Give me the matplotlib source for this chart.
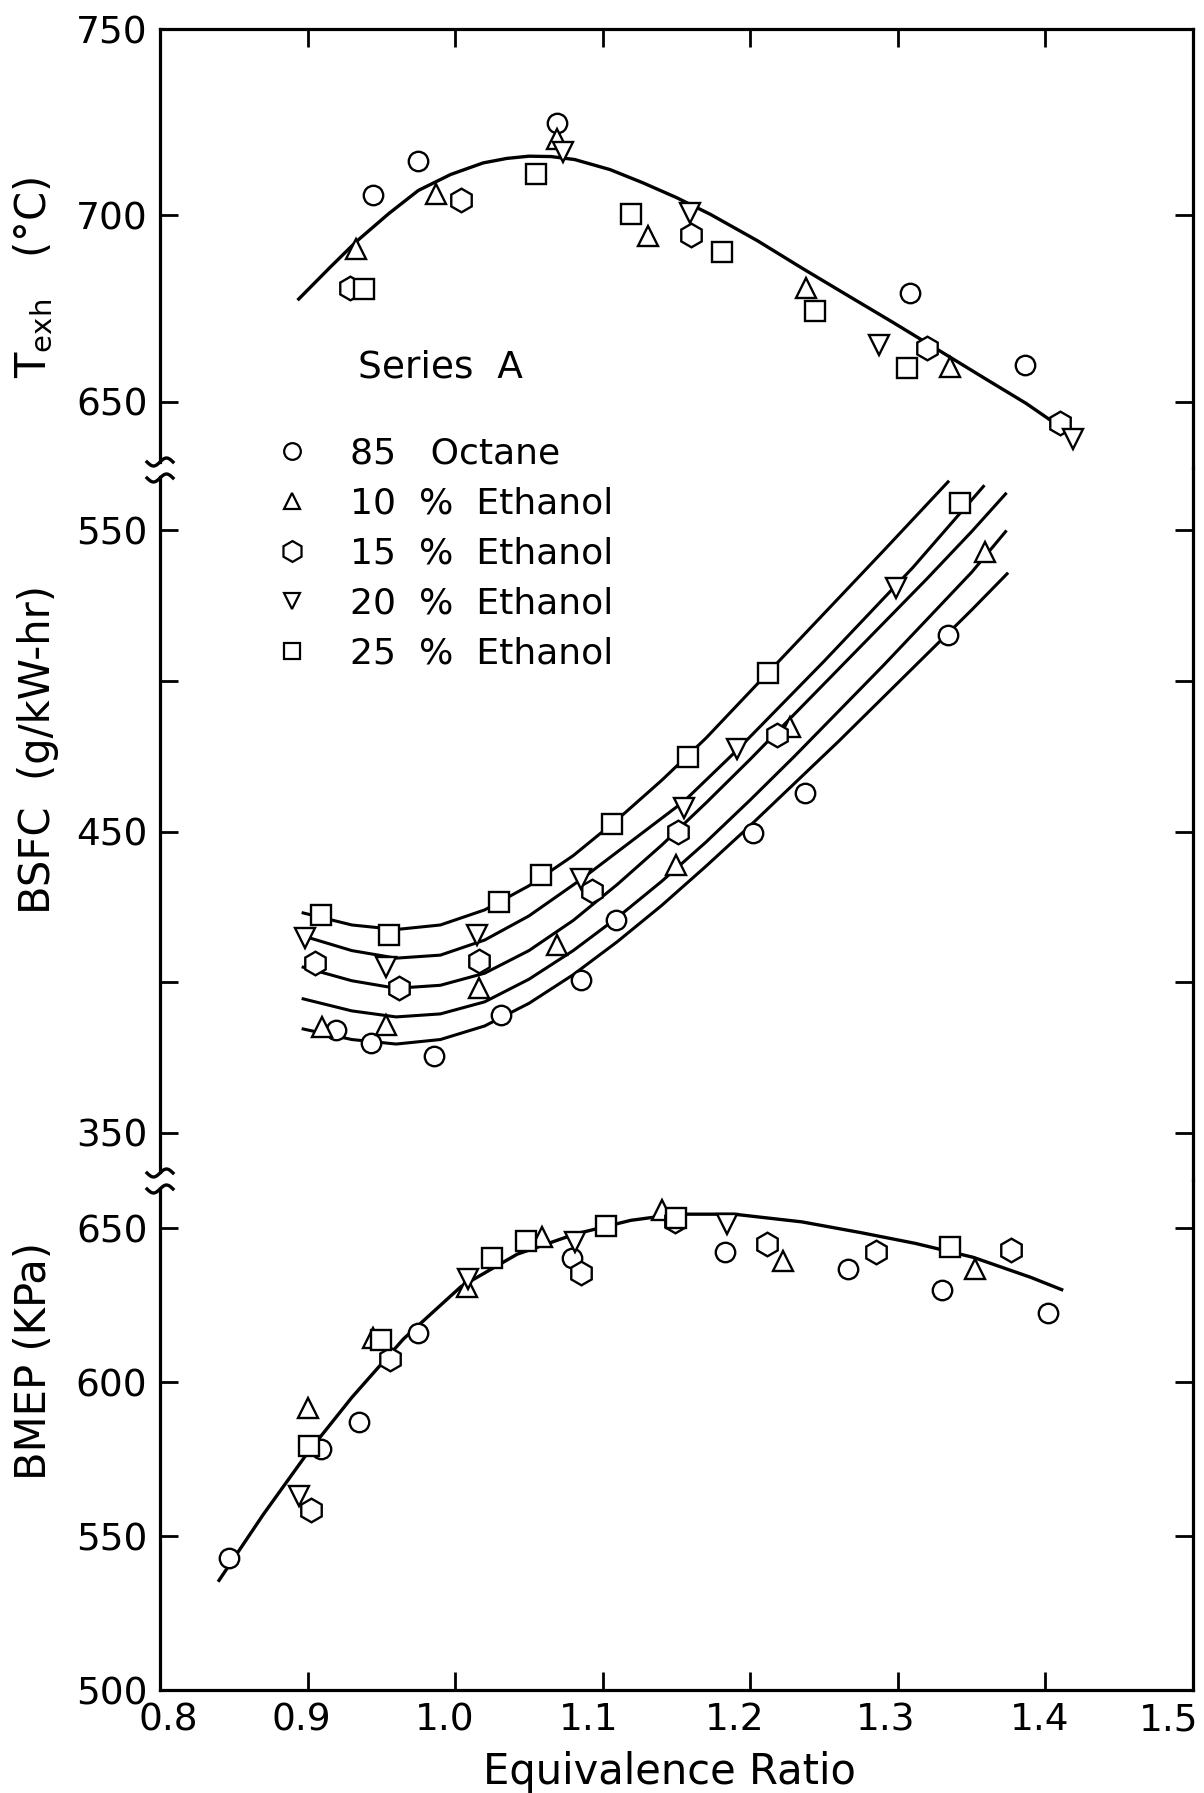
import numpy as np
import matplotlib.pyplot as plt
import matplotlib.transforms as mtransforms
from matplotlib.lines import Line2D

plt.rcParams['font.family'] = 'DejaVu Sans'
plt.rcParams['mathtext.fontset'] = 'dejavusans'

# Series A - engine data vs equivalence ratio
fuels = ['85   Octane', '10  %  Ethanol', '15  %  Ethanol', '20  %  Ethanol',
         '25  %  Ethanol']
markers = ['o', '^', 'h', 'v', 's']

# exhaust temperature (deg C)
oct_t_phi = [0.944, 0.975, 1.069, 1.308, 1.386]
oct_t = [705.5, 714.6, 724.8, 679.2, 660.0]
e10_t_phi = [0.933, 0.987, 1.069, 1.131, 1.238, 1.335]
e10_t = [691.0, 705.8, 720.4, 694.4, 680.6, 659.5]
e15_t_phi = [0.929, 1.004, 1.160, 1.320, 1.410]
e15_t = [680.6, 704.2, 694.8, 664.5, 644.3]
e20_t_phi = [1.073, 1.159, 1.287, 1.419]
e20_t = [717.1, 700.6, 665.4, 640.0]
e25_t_phi = [0.938, 1.055, 1.119, 1.181, 1.244, 1.306]
e25_t = [680.3, 711.0, 700.3, 690.2, 674.3, 659.0]

fit_t_phi = [0.894, 0.915, 0.933, 0.955, 0.975, 0.997, 1.019, 1.035, 1.050, 1.065,
             1.081, 1.105, 1.127, 1.150, 1.173, 1.205, 1.235, 1.265, 1.296, 1.328,
             1.359, 1.387, 1.413]
fit_t = [677.6, 686.0, 693.0, 700.5, 706.7, 711.0, 714.1, 715.3, 715.9, 715.8,
         715.0, 712.3, 708.8, 704.8, 700.3, 693.2, 685.9, 678.8, 671.5, 663.8,
         656.3, 649.6, 642.5]

# brake specific fuel consumption (g/kW-hr)
oct_b_phi = [0.919, 0.943, 0.986, 1.031, 1.085, 1.109, 1.202, 1.237, 1.334]
oct_b = [384.2, 379.7, 375.5, 389.1, 400.9, 420.7, 449.5, 462.8, 515.2]
e10_b_phi = [0.910, 0.953, 1.016, 1.069, 1.150, 1.227, 1.359]
e10_b = [385.0, 385.7, 398.1, 412.5, 438.9, 484.8, 542.6]
e15_b_phi = [0.905, 0.962, 1.016, 1.093, 1.151, 1.218]
e15_b = [406.3, 398.1, 407.0, 430.4, 449.7, 482.0]
e20_b_phi = [0.898, 0.953, 1.015, 1.085, 1.155, 1.191, 1.299]
e20_b = [414.6, 405.1, 415.7, 434.3, 457.9, 477.3, 530.8]
e25_b_phi = [0.909, 0.955, 1.030, 1.058, 1.106, 1.158, 1.212, 1.342]
e25_b = [422.2, 415.7, 426.7, 435.5, 452.6, 474.6, 502.7, 558.9]

oct_fit_phi = [0.897, 0.93, 0.96, 0.99, 1.02, 1.05, 1.08, 1.11, 1.14, 1.17, 1.20,
               1.23, 1.26, 1.29, 1.32, 1.35, 1.374]
oct_fit = [384.5, 381.0, 379.5, 381.0, 385.5, 393.0, 402.5, 413.5, 425.5, 438.5,
           452.0, 466.0, 480.0, 494.5, 509.0, 523.5, 535.5]
e10_fit_phi = [0.897, 0.93, 0.96, 0.99, 1.02, 1.05, 1.08, 1.11, 1.14, 1.17, 1.20,
               1.23, 1.26, 1.29, 1.32, 1.35, 1.373]
e10_fit = [394.5, 390.5, 388.5, 389.5, 393.5, 401.0, 410.5, 421.5, 433.5, 446.5,
           460.5, 475.0, 490.0, 505.0, 520.5, 536.0, 549.5]
e15_fit_phi = [0.897, 0.93, 0.96, 0.99, 1.02, 1.05, 1.08, 1.11, 1.14, 1.17, 1.20,
               1.23, 1.26, 1.29, 1.32, 1.35, 1.373]
e15_fit = [405.0, 400.5, 398.0, 399.0, 403.0, 410.5, 420.5, 432.5, 445.5, 459.5,
           474.0, 489.0, 504.0, 519.0, 534.0, 549.5, 562.0]
e20_fit_phi = [0.896, 0.93, 0.96, 0.99, 1.02, 1.05, 1.085, 1.12, 1.155, 1.19, 1.22,
               1.25, 1.28, 1.31, 1.358]
e20_fit = [415.5, 410.5, 408.0, 409.0, 414.0, 422.0, 434.0, 447.0, 460.0, 476.5,
           491.5, 506.5, 522.0, 537.5, 564.5]
e25_fit_phi = [0.897, 0.93, 0.96, 0.99, 1.02, 1.05, 1.08, 1.11, 1.14, 1.17, 1.20,
               1.23, 1.26, 1.29, 1.334]
e25_fit = [423.0, 419.0, 417.5, 419.0, 424.0, 432.0, 442.0, 454.0, 467.0, 481.0,
           496.5, 512.0, 527.5, 543.0, 566.0]

# brake mean effective pressure (kPa)
oct_m_phi = [0.847, 0.909, 0.935, 0.975, 1.079, 1.183, 1.266, 1.330, 1.402]
oct_m = [542.7, 578.3, 586.9, 615.8, 640.3, 642.2, 636.6, 629.9, 622.5]
e10_m_phi = [0.900, 0.944, 1.008, 1.059, 1.140, 1.222, 1.352]
e10_m = [591.7, 614.3, 630.7, 647.0, 655.9, 639.2, 636.6]
e15_m_phi = [0.902, 0.956, 1.085, 1.149, 1.211, 1.285, 1.377]
e15_m = [558.6, 607.6, 635.5, 652.2, 644.8, 642.2, 642.9]
e20_m_phi = [0.894, 1.009, 1.081, 1.184]
e20_m = [563.1, 633.6, 645.5, 651.4]
e25_m_phi = [0.901, 0.950, 1.025, 1.048, 1.102, 1.150, 1.335]
e25_m = [579.1, 613.6, 640.3, 645.9, 650.7, 653.3, 644.0]

fit_m_phi = [0.840, 0.870, 0.900, 0.930, 0.965, 1.004, 1.042, 1.081, 1.119, 1.150,
             1.189, 1.235, 1.275, 1.312, 1.351, 1.390, 1.411]
fit_m = [535.6, 557.0, 577.0, 595.0, 614.0, 631.0, 641.5, 648.0, 652.5, 654.5,
         654.5, 652.0, 648.5, 645.0, 640.5, 634.0, 630.0]

texh_pts = [(oct_t_phi, oct_t), (e10_t_phi, e10_t), (e15_t_phi, e15_t),
            (e20_t_phi, e20_t), (e25_t_phi, e25_t)]
bsfc_pts = [(oct_b_phi, oct_b), (e10_b_phi, e10_b), (e15_b_phi, e15_b),
            (e20_b_phi, e20_b), (e25_b_phi, e25_b)]
bsfc_fits = [(oct_fit_phi, oct_fit), (e10_fit_phi, e10_fit), (e15_fit_phi, e15_fit),
             (e20_fit_phi, e20_fit), (e25_fit_phi, e25_fit)]
bmep_pts = [(oct_m_phi, oct_m), (e10_m_phi, e10_m), (e15_m_phi, e15_m),
            (e20_m_phi, e20_m), (e25_m_phi, e25_m)]

W, H = 1204, 1793
fig = plt.figure(figsize=(W / 100, H / 100), dpi=100)

left, right = 160, 1193
edges = [29, 468, 1180, 1690]
ylims = [(632.3, 750), (334.4, 570.6), (500, 665.6)]
yticks = [[650, 700, 750], [350, 400, 450, 500, 550], [500, 550, 600, 650]]
ytlabels = [['650', '700', '750'], ['350', '', '450', '', '550'],
            ['500', '550', '600', '650']]
xticks = [0.8, 0.9, 1.0, 1.1, 1.2, 1.3, 1.4, 1.5]

lw_spine = 2.3
axes = []
for i, (top, bot) in enumerate(zip(edges[:-1], edges[1:])):
    ax = fig.add_axes([left / W, 1 - bot / H, (right - left) / W, (bot - top) / H])
    ax.set_xlim(0.8, 1.5)
    ax.set_ylim(*ylims[i])
    ax.set_xticks(xticks)
    ax.set_yticks(yticks[i])
    ax.set_yticklabels(ytlabels[i])
    ax.tick_params(direction='in', length=13, width=2, labelsize=27, pad=9,
                   right=True, top=(i == 0), bottom=(i == 2),
                   labelbottom=(i == 2))
    for s in ax.spines.values():
        s.set_linewidth(lw_spine)
    if i > 0:
        ax.spines['top'].set_visible(False)
    if i < 2:
        ax.spines['bottom'].set_visible(False)
    ax.patch.set_alpha(0)
    axes.append(ax)

ax1, ax2, ax3 = axes
ax3.set_xticklabels(['0.8', '0.9', '1.0', '1.1', '1.2', '1.3', '1.4', '1.5'])
# hand-lettered labels sit a little left of their ticks
shifts = [8, -6, -10, -14, -16, -12, -6, -24]
for dx, lab in zip(shifts, ax3.get_xticklabels()):
    lab.set_transform(lab.get_transform() +
                      mtransforms.ScaledTranslation(dx / 100, 0, fig.dpi_scale_trans))

# gaps in the left spine at the axis breaks
ax1.spines['left'].set_bounds(632.3 + 6 / 3.73, 750)
ax2.spines['left'].set_bounds(334.4 + 8 / 3.015, 570.6 - 9 / 3.015)
ax3.spines['left'].set_bounds(500, 665.6 - 9 / 3.08)

# squiggle break marks drawn in figure pixels
sq_x = np.linspace(-13, 13, 30)
sq_y = 4 * np.sin(sq_x / 13 * np.pi)
for yb in [462, 478, 1173, 1189]:
    fig.add_artist(Line2D((left + sq_x) / W, 1 - (yb - sq_y) / H, color='black',
                          lw=2.4, transform=fig.transFigure))

mk = dict(ls='none', mfc='white', mec='black', mew=1.7, zorder=3)
msize = {'o': 14, '^': 14, 'h': 17, 'v': 14, 's': 14}

ax1.plot(fit_t_phi, fit_t, color='black', lw=2.4, zorder=2)
for (px, py), m in zip(texh_pts, markers):
    ax1.plot(px, py, marker=m, ms=msize[m], **mk)

for px, py in bsfc_fits:
    ax2.plot(px, py, color='black', lw=2.2, zorder=2)
for (px, py), m in zip(bsfc_pts, markers):
    ax2.plot(px, py, marker=m, ms=msize[m], **mk)

ax3.plot(fit_m_phi, fit_m, color='black', lw=2.4, zorder=2)
for (px, py), m in zip(bmep_pts, markers):
    ax3.plot(px, py, marker=m, ms=msize[m], **mk)

# axis titles
fig.text(34 / W, 1 - 277 / H, r'T$_{\mathregular{exh}}$   (°C)', rotation=90,
         ha='center', va='center', fontsize=30)
fig.text(38 / W, 1 - 749 / H, 'BSFC  (g/kW-hr)', rotation=90,
         ha='center', va='center', fontsize=30)
fig.text(34 / W, 1 - 1361 / H, 'BMEP (KPa)', rotation=90,
         ha='center', va='center', fontsize=30)
fig.text(669 / W, 1 - 1772 / H, 'Equivalence Ratio', ha='center', va='center',
         fontsize=30)

# key
fig.text(358 / W, 1 - 368 / H, 'Series  A', ha='left', va='center', fontsize=27)
handles = [Line2D([], [], marker=m, ls='none', mfc='white', mec='black',
                  ms=msize[m] - 2, mew=1.6) for m in markers]
fig.legend(handles, fuels, loc='upper left', bbox_to_anchor=(274 / W, 1 - 437 / H),
           frameon=False, fontsize=26, handlelength=1.0, handletextpad=1.1,
           labelspacing=0.44, borderpad=0, borderaxespad=0)

fig.savefig('out.png', dpi=100)
